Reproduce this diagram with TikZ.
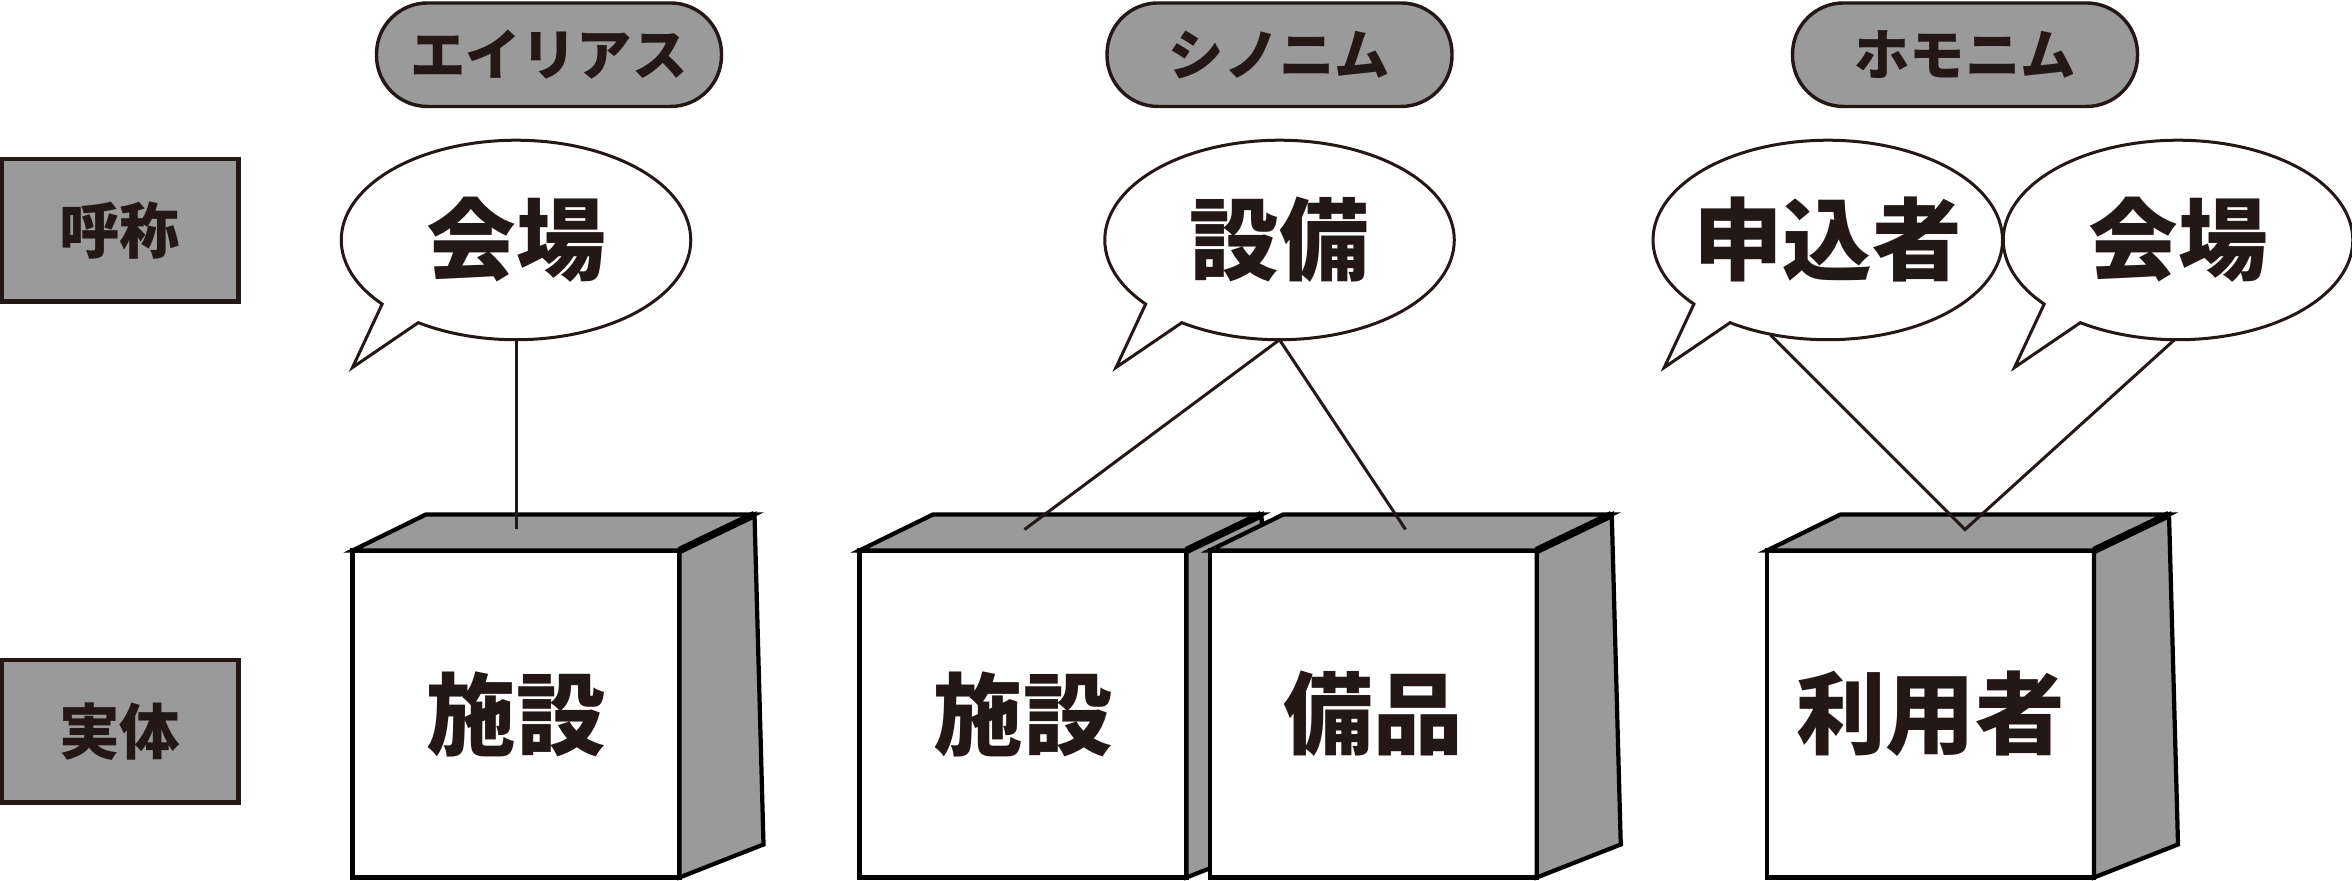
\documentclass[tikz,border=0pt]{standalone}
\usepackage{fontspec}
\newfontfamily\jp{Noto Sans CJK JP}
\usetikzlibrary{shapes.geometric}
\definecolor{ink}{HTML}{231815}
\definecolor{shade}{HTML}{9A9A9A}
\tikzset{
	kind/.style = {draw = ink, fill = shade, line width = 0.65pt, rounded corners = 0.34cm, minimum width = 2.3cm, minimum height = 0.69cm, inner sep = 0pt, outer sep = 0pt, text = ink, font = \jp\bfseries\fontsize{10.5}{11}\selectfont},
	level/.style = {draw = ink, fill = shade, line width = 0.8pt, minimum width = 1.58cm, minimum height = 0.95cm, inner sep = 0pt, outer sep = 0pt, text = ink, font = \jp\bfseries\fontsize{11.5}{12}\selectfont},
	call/.style = {ellipse, minimum width = 2.33cm, minimum height = 1.33cm, inner sep = 0pt, outer sep = 0pt, text = ink, font = \jp\bfseries\fontsize{17}{18}\selectfont},
	callline/.style = {draw = ink, fill = white, line width = 0.57pt},
	face/.style = {draw = black, fill = white, line width = 0.8pt, minimum width = 2.18cm, minimum height = 2.18cm, inner sep = 0pt, outer sep = 0pt, text = ink, font = \jp\bfseries\fontsize{17}{18}\selectfont},
	side/.style = {draw = black, fill = shade, line width = 0.8pt},
	link/.style = {draw = ink, line width = 0.57pt}
}
\newcommand{\speech}[3]{%
	\draw[callline] ([shift = {(236:1.165 and 0.665)}]#2) arc[start angle = 236, end angle = 580, x radius = 1.165, y radius = 0.665] -- ([shift = {(-1.09,-0.85)}]#2) -- cycle;
	\node[call] (#1) at (#2) {#3};
}
\newcommand{\cubebox}[3]{%
	\node[face] (#1) at (#2) {#3};
	\draw[side] (#1.north west) -- ++(0.49,0.24) -- ([shift = {(0.5,0.24)}]#1.north east) -- (#1.north east) -- cycle;
	\draw[side] (#1.north east) -- ++(0.5,0.24) -- ([shift = {(0.56,0.22)}]#1.south east) -- (#1.south east) -- cycle;
	\draw[line width = 1.4pt] (#1.north east) -- ++(0.5,0.24);
}

\begin{document}
\begin{tikzpicture}
	\useasboundingbox (0,0) rectangle (15.68,5.87);

	\node[level] (name-row) at (0.8,4.335) {呼称};
	\node[level] (thing-row) at (0.8,0.995) {実体};

	\node[kind] (alias) at (3.66,5.505) {エイリアス};
	\node[kind] (synonym) at (8.53,5.505) {シノニム};
	\node[kind] (homonym) at (13.1,5.505) {ホモニム};

	\cubebox{alias-thing}{3.44,1.11}{施設}
	\cubebox{syn-thing1}{6.82,1.11}{施設}
	\cubebox{syn-thing2}{9.155,1.11}{備品}
	\cubebox{homo-thing}{12.87,1.11}{利用者}

	\speech{alias-call}{3.44,4.27}{会場}
	\speech{syn-call}{8.53,4.27}{設備}
	\speech{homo-call1}{12.185,4.27}{申込者}
	\speech{homo-call2}{14.52,4.27}{会場}

	\coordinate (alias-end) at (3.44,2.34);
	\coordinate (syn-end1) at (6.83,2.34);
	\coordinate (syn-end2) at (9.37,2.34);
	\coordinate (homo-end) at (13.1,2.34);

	\draw[link] (alias-call.south) -- (alias-end);
	\draw[link] (syn-end1) -- (syn-call.south) -- (syn-end2);
	\draw[link] (homo-call1.239) -- (homo-end) -- (homo-call2.268);
\end{tikzpicture}
\end{document}
